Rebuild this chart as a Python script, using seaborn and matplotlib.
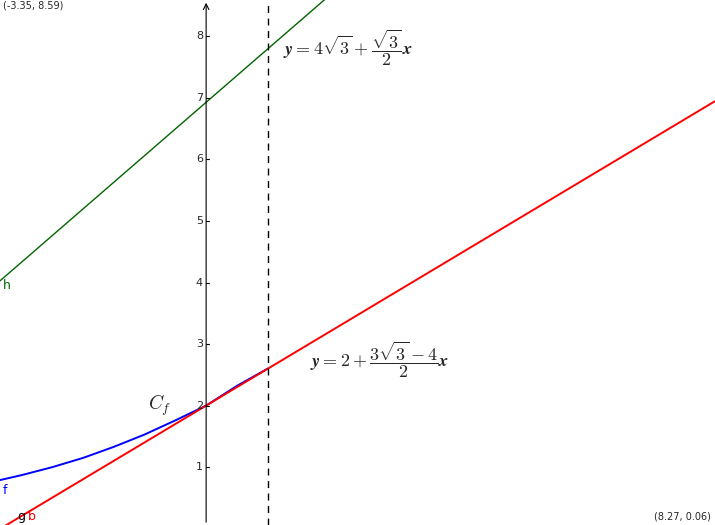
import numpy as np
import matplotlib.pyplot as plt
import seaborn as sns

sns.set_style("white")
plt.rcParams['font.family'] = ['DejaVu Sans']
plt.rcParams['mathtext.fontset'] = 'cm'

# view window
x_min, x_max = -3.35, 8.27
y_min, y_max = 0.06, 8.59

# curve C_f
f_x = [-3.35, -3.0, -2.5, -2.0, -1.5, -1.0, -0.5, 0.0, 0.5, 1.0]
f_y = [0.79, 0.87, 1.0, 1.15, 1.33, 1.53, 1.76, 2.0, 2.32, 2.6]

# straight lines (end points)
line_x = [x_min, x_max]
b_slope, b_icpt = (3 * np.sqrt(3) - 4) / 2, 2.0
h_slope, h_icpt = np.sqrt(3) / 2, 4 * np.sqrt(3)
y_ticks = [1, 2, 3, 4, 5, 6, 7, 8]

fig = plt.figure(figsize=(7.15, 5.25), dpi=100)
ax = fig.add_axes([0, 0, 1, 1])
ax.set_xlim(x_min, x_max)
ax.set_ylim(y_min, y_max)
ax.axis('off')

sns.lineplot(x=f_x, y=f_y, color='blue', lw=1.4, ax=ax)
sns.lineplot(x=line_x, y=[b_icpt + b_slope * x for x in line_x], color='red', lw=1.4, ax=ax)
sns.lineplot(x=line_x, y=[h_icpt + h_slope * x for x in line_x], color='#006400', lw=1.0, ax=ax)
ax.axvline(1, color='black', ls=(0, (5, 4)), lw=1)

# y axis with arrow
ax.annotate('', xy=(0, y_max), xytext=(0, y_min),
            arrowprops=dict(arrowstyle='->', lw=0.8, color='black'))
for t in y_ticks:
    ax.plot([0, 0.05], [t, t], color='black', lw=0.8)
    ax.text(-0.05, t, str(t), ha='right', va='center', fontsize=8)

ax.text(1.25, 7.82, r'$\boldsymbol{y = 4\sqrt{3}+\dfrac{\sqrt{3}}{2}x}$', fontsize=13, va='center')
ax.text(1.69, 2.74, r'$\boldsymbol{y = 2+\dfrac{3\sqrt{3}-4}{2}x}$', fontsize=13, va='center')
ax.text(-0.94, 2.01, r'$\boldsymbol{C_f}$', fontsize=14, va='center')

ax.text(-3.3, 3.95, 'h', color='#006400', fontsize=9, va='center')
ax.text(-3.3, 0.62, 'f', color='blue', fontsize=9, va='center')
ax.text(-3.07, 0.2, 'g', color='black', fontsize=9, va='center')
ax.text(-2.9, 0.2, 'b', color='red', fontsize=9, va='center')

ax.text(-3.3, 8.5, '(-3.35, 8.59)', fontsize=7, va='center')
ax.text(8.2, 0.2, '(8.27, 0.06)', fontsize=7, va='center', ha='right')

fig.savefig('out.png', dpi=100)
